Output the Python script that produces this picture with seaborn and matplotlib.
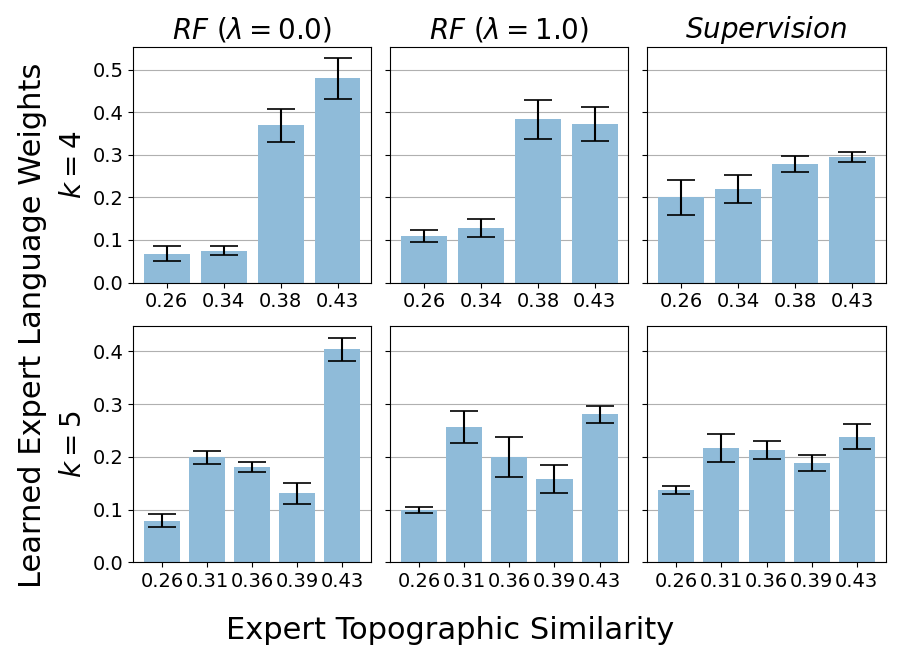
import numpy as np
import pandas as pd
import seaborn as sns
import matplotlib
matplotlib.use("Agg")
import matplotlib.pyplot as plt

# similarity values on the x axis
sims_k4 = ["0.26", "0.34", "0.38", "0.43"]
sims_k5 = ["0.26", "0.31", "0.36", "0.39", "0.43"]

titles = [r"$RF$ ($\lambda = 0.0$)", r"$RF$ ($\lambda = 1.0$)", r"$Supervision$"]
row_labels = [r"$k = 4$", r"$k = 5$"]

# k = 4 row: mean weights and error
rf0_k4 = [0.068, 0.075, 0.369, 0.479]
rf0_k4_err = [0.017, 0.011, 0.038, 0.048]
rf1_k4 = [0.110, 0.129, 0.383, 0.372]
rf1_k4_err = [0.014, 0.021, 0.046, 0.040]
sup_k4 = [0.200, 0.220, 0.278, 0.295]
sup_k4_err = [0.041, 0.033, 0.018, 0.012]

# k = 5 row
rf0_k5 = [0.079, 0.199, 0.181, 0.131, 0.404]
rf0_k5_err = [0.013, 0.012, 0.010, 0.020, 0.022]
rf1_k5 = [0.099, 0.256, 0.199, 0.158, 0.281]
rf1_k5_err = [0.005, 0.030, 0.038, 0.027, 0.016]
sup_k5 = [0.137, 0.217, 0.213, 0.189, 0.238]
sup_k5_err = [0.008, 0.027, 0.017, 0.015, 0.024]

rows = [
    (sims_k4, [(rf0_k4, rf0_k4_err), (rf1_k4, rf1_k4_err), (sup_k4, sup_k4_err)]),
    (sims_k5, [(rf0_k5, rf0_k5_err), (rf1_k5, rf1_k5_err), (sup_k5, sup_k5_err)]),
]

bar_color = (0.561, 0.733, 0.851)

fig, axes = plt.subplots(2, 3, figsize=(9, 6.5), dpi=100, sharey="row")
fig.subplots_adjust(left=0.148, right=0.984, top=0.928, bottom=0.135,
                    wspace=0.08, hspace=0.186)

for r, (sims, panels) in enumerate(rows):
    for c, (vals, errs) in enumerate(panels):
        ax = axes[r, c]
        df = pd.DataFrame({"sim": sims, "weight": vals})
        sns.barplot(data=df, x="sim", y="weight", order=sims, color=bar_color,
                    saturation=1, width=0.8, errorbar=None, ax=ax, zorder=2)
        ax.errorbar(np.arange(len(sims)), vals, yerr=errs, fmt="none",
                    ecolor="black", elinewidth=1.5, capsize=10, capthick=1.2,
                    zorder=3)
        ax.yaxis.grid(True, color="#b0b0b0", linewidth=0.8, zorder=0)
        ax.set_axisbelow(True)
        ax.set_xlabel("")
        ax.set_ylabel("")
        ax.tick_params(labelsize=14)
        if r == 0:
            ax.set_title(titles[c], fontsize=20)
        if c == 0:
            ax.set_ylabel(row_labels[r], fontsize=20)
    axes[r, 0].set_ylim(bottom=0)

fig.supylabel("Learned Expert Language Weights", fontsize=22, x=0.02, y=0.5)
fig.supxlabel("Expert Topographic Similarity", fontsize=22, y=0.008)

plt.savefig("out.png", dpi=100)
